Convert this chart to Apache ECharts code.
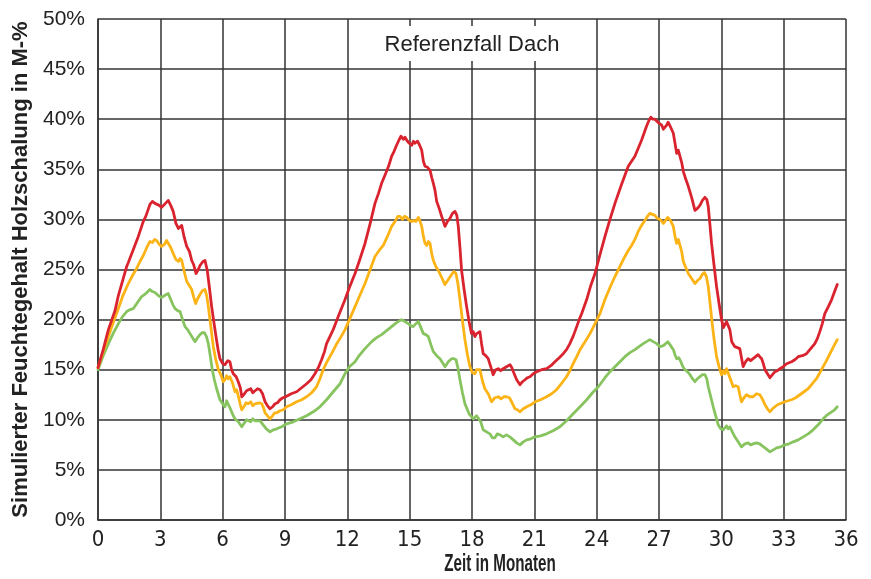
<!DOCTYPE html>
<html>
<head>
<meta charset="utf-8">
<script src="https://cdn.jsdelivr.net/npm/echarts@6/dist/echarts.min.js"></script>
<style>
  html, body { margin: 0; padding: 0; background: #fff; }
  #chart { width: 871px; height: 579px; }
</style>
</head>
<body>
<div id="chart"></div>
<script>
// Simulated moisture content of the timber sheathing, [month, M-%]
const redSeries = [[0,15.2],[0.25,17.0],[0.5,19.0],[0.82,20.9],[0.98,22.4],[1.2,24.0],[1.38,25.3],[1.46,25.7],[1.7,27.0],[1.94,28.3],[2.18,29.8],[2.3,30.3],[2.5,31.5],[2.62,31.8],[2.74,31.6],[2.82,31.7],[2.95,31.4],[3.06,31.2],[3.2,31.5],[3.38,31.9],[3.5,31.4],[3.62,30.8],[3.75,29.6],[3.87,29.1],[4.03,29.4],[4.15,28.2],[4.27,27.3],[4.4,26.8],[4.51,25.9],[4.6,25.5],[4.72,24.6],[4.85,25.1],[4.91,25.4],[5.05,25.8],[5.15,25.9],[5.26,24.9],[5.35,23.4],[5.47,21.3],[5.58,19.7],[5.68,18.3],[5.78,17.0],[5.87,16.1],[6.0,15.6],[6.11,15.5],[6.25,15.9],[6.35,15.8],[6.43,15.0],[6.51,14.6],[6.65,14.3],[6.75,13.8],[6.85,13.2],[6.92,12.3],[7.05,12.6],[7.15,12.9],[7.23,12.8],[7.35,13.1],[7.45,12.7],[7.56,12.9],[7.68,13.1],[7.8,13.0],[7.92,12.6],[8.04,11.8],[8.16,11.4],[8.28,11.1],[8.4,11.3],[8.52,11.6],[8.64,11.7],[8.76,12.0],[8.9,12.2],[9.03,12.3],[9.3,12.6],[9.56,12.8],[9.8,13.2],[10.04,13.6],[10.25,14.0],[10.44,14.6],[10.6,15.2],[10.76,16.0],[10.9,16.8],[11.0,17.6],[11.16,18.3],[11.32,19.0],[11.6,20.5],[11.89,22.0],[12.1,23.2],[12.37,24.6],[12.6,26.0],[12.85,27.6],[13.1,29.6],[13.33,31.6],[13.5,32.6],[13.65,33.6],[13.89,34.8],[14.0,35.4],[14.13,36.3],[14.25,36.8],[14.37,37.4],[14.48,37.9],[14.58,38.3],[14.7,38.0],[14.78,38.2],[14.86,37.9],[14.98,37.6],[15.1,37.4],[15.18,37.8],[15.25,37.6],[15.38,37.8],[15.48,37.4],[15.58,36.9],[15.66,35.8],[15.74,35.3],[15.86,35.2],[15.98,34.9],[16.06,34.2],[16.14,33.6],[16.22,32.9],[16.3,31.8],[16.42,31.1],[16.54,30.3],[16.62,29.8],[16.7,29.3],[16.82,29.8],[16.94,30.1],[17.06,30.6],[17.18,30.8],[17.27,30.4],[17.34,29.3],[17.42,27.2],[17.5,24.9],[17.62,23.0],[17.74,21.3],[17.86,19.8],[17.98,18.6],[18.06,18.8],[18.14,18.3],[18.22,18.6],[18.3,18.5],[18.38,18.8],[18.46,17.6],[18.54,16.6],[18.66,16.4],[18.78,16.1],[18.9,15.3],[19.02,14.5],[19.14,15.0],[19.26,15.1],[19.38,14.9],[19.5,15.1],[19.66,15.3],[19.83,15.5],[19.92,15.2],[19.99,14.8],[20.07,14.4],[20.15,14.0],[20.31,13.5],[20.43,13.8],[20.55,14.0],[20.67,14.2],[20.79,14.3],[20.95,14.6],[21.11,14.8],[21.35,15.0],[21.59,15.1],[21.8,15.4],[21.99,15.8],[22.2,16.2],[22.39,16.6],[22.55,17.0],[22.71,17.6],[22.88,18.4],[23.04,19.3],[23.16,20.0],[23.28,20.6],[23.4,21.3],[23.52,22.0],[23.7,23.3],[23.92,24.6],[24.15,26.4],[24.4,28.3],[24.64,30.0],[24.88,31.6],[25.2,33.5],[25.52,35.3],[25.68,35.8],[25.84,36.3],[26.0,37.1],[26.16,37.9],[26.28,38.6],[26.4,39.3],[26.52,39.9],[26.61,40.2],[26.7,40.0],[26.8,40.0],[26.89,39.9],[27.0,39.6],[27.13,39.4],[27.21,39.0],[27.29,39.1],[27.37,39.4],[27.44,39.7],[27.56,39.2],[27.69,38.6],[27.77,37.6],[27.85,36.6],[27.93,36.9],[28.01,36.8],[28.09,35.7],[28.17,34.8],[28.29,34.0],[28.41,33.3],[28.57,32.2],[28.73,30.9],[28.85,31.1],[28.97,31.4],[29.09,31.9],[29.21,32.2],[29.3,32.0],[29.37,31.3],[29.45,29.5],[29.53,27.6],[29.65,25.4],[29.77,23.3],[29.89,21.6],[30.01,20.0],[30.1,19.2],[30.17,19.3],[30.25,19.8],[30.33,19.8],[30.41,19.0],[30.5,17.8],[30.65,17.3],[30.77,17.2],[30.89,17.1],[30.97,16.2],[31.05,15.3],[31.17,15.8],[31.29,16.1],[31.41,15.9],[31.53,16.1],[31.65,16.3],[31.77,16.5],[31.85,16.3],[31.94,16.1],[32.02,15.6],[32.1,15.0],[32.22,14.6],[32.34,14.2],[32.46,14.5],[32.58,14.8],[32.7,14.9],[32.82,15.1],[32.98,15.3],[33.14,15.6],[33.38,15.8],[33.54,16.0],[33.7,16.3],[33.9,16.4],[34.1,16.6],[34.3,17.1],[34.5,17.6],[34.62,18.1],[34.74,18.8],[34.86,19.6],[34.98,20.6],[35.15,21.3],[35.31,22.0],[35.45,22.8],[35.58,23.5]];

const orangeSeries = [[0,15.2],[0.25,16.8],[0.5,18.3],[0.75,19.8],[0.98,21.1],[1.2,22.4],[1.46,23.6],[1.66,24.4],[1.86,25.1],[2.02,25.8],[2.18,26.4],[2.35,27.2],[2.5,27.8],[2.62,27.7],[2.72,28.0],[2.82,27.9],[2.95,27.5],[3.06,27.3],[3.2,27.5],[3.3,27.9],[3.38,27.8],[3.5,27.2],[3.62,26.6],[3.75,26.0],[3.87,25.8],[3.95,26.1],[4.03,25.9],[4.15,24.8],[4.27,23.8],[4.39,23.4],[4.51,23.0],[4.6,22.3],[4.7,21.6],[4.8,22.1],[4.91,22.5],[5.03,22.9],[5.15,23.0],[5.23,22.4],[5.31,21.3],[5.43,19.3],[5.55,17.3],[5.67,16.0],[5.79,15.0],[5.91,14.5],[6.03,13.8],[6.11,14.0],[6.19,14.4],[6.27,14.1],[6.35,14.3],[6.47,13.7],[6.59,12.8],[6.67,13.0],[6.75,12.4],[6.84,11.6],[6.92,11.0],[7.05,11.4],[7.13,11.7],[7.23,11.6],[7.35,11.8],[7.45,11.4],[7.56,11.6],[7.64,11.5],[7.76,11.7],[7.88,11.6],[7.95,11.3],[8.04,10.7],[8.16,10.4],[8.28,10.1],[8.4,10.4],[8.5,10.7],[8.6,10.7],[8.76,10.9],[8.92,11.0],[9.08,11.3],[9.3,11.5],[9.56,11.8],[9.8,12.0],[10.04,12.3],[10.28,12.7],[10.52,13.3],[10.68,14.1],[10.84,15.0],[11.0,15.7],[11.16,16.3],[11.32,16.9],[11.49,17.6],[11.7,18.3],[11.89,19.0],[12.1,20.0],[12.37,21.3],[12.6,22.4],[12.85,23.6],[13.1,25.0],[13.33,26.3],[13.53,26.9],[13.73,27.4],[13.93,28.3],[14.13,29.3],[14.3,29.8],[14.43,30.3],[14.53,30.3],[14.65,30.0],[14.75,30.3],[14.86,30.2],[14.98,29.9],[15.1,29.8],[15.2,29.9],[15.3,29.8],[15.42,30.2],[15.5,29.8],[15.58,29.3],[15.66,28.3],[15.74,27.6],[15.82,27.4],[15.9,27.8],[15.98,27.6],[16.06,26.6],[16.14,25.9],[16.26,25.3],[16.38,24.9],[16.54,24.2],[16.7,23.5],[16.86,24.0],[17.02,24.5],[17.13,24.8],[17.23,24.6],[17.32,23.6],[17.42,22.0],[17.54,19.9],[17.66,18.0],[17.78,16.5],[17.9,15.3],[18.02,14.7],[18.14,14.6],[18.22,15.0],[18.3,15.0],[18.38,15.0],[18.5,13.9],[18.62,13.1],[18.78,12.6],[18.94,11.8],[19.1,12.2],[19.26,12.3],[19.4,12.1],[19.53,12.3],[19.66,12.3],[19.8,12.2],[19.93,11.7],[20.07,11.1],[20.19,11.0],[20.31,10.8],[20.47,11.1],[20.63,11.3],[20.83,11.5],[21.03,11.8],[21.3,12.0],[21.59,12.3],[21.83,12.6],[22.07,13.0],[22.3,13.6],[22.55,14.3],[22.71,14.9],[22.87,15.6],[23.04,16.3],[23.2,17.0],[23.44,17.8],[23.68,18.6],[23.92,19.6],[24.16,20.6],[24.4,22.0],[24.64,23.2],[24.88,24.3],[25.12,25.3],[25.36,26.3],[25.52,26.9],[25.68,27.4],[25.84,28.0],[26.0,28.8],[26.16,29.4],[26.32,29.9],[26.44,30.3],[26.56,30.6],[26.68,30.5],[26.8,30.4],[26.92,30.1],[27.05,30.0],[27.13,29.9],[27.21,29.6],[27.29,29.7],[27.42,30.2],[27.55,29.9],[27.69,29.3],[27.77,28.3],[27.85,27.6],[27.93,28.0],[28.01,27.9],[28.09,26.8],[28.17,25.8],[28.29,25.2],[28.41,24.6],[28.57,24.1],[28.73,23.6],[28.85,23.9],[28.97,24.1],[29.08,24.5],[29.18,24.7],[29.28,24.3],[29.37,23.3],[29.47,21.4],[29.56,19.6],[29.66,17.9],[29.77,16.3],[29.89,15.3],[30.01,14.5],[30.09,14.9],[30.17,14.6],[30.25,15.1],[30.33,15.1],[30.45,14.0],[30.57,13.3],[30.69,13.4],[30.81,13.3],[30.89,12.5],[30.97,11.8],[31.09,12.2],[31.21,12.5],[31.37,12.3],[31.53,12.3],[31.69,12.6],[31.85,12.5],[31.97,12.1],[32.1,11.5],[32.22,11.1],[32.34,10.8],[32.46,11.1],[32.58,11.3],[32.7,11.5],[32.82,11.6],[33.06,11.8],[33.38,12.0],[33.58,12.2],[33.78,12.5],[33.98,12.8],[34.18,13.1],[34.38,13.6],[34.58,14.1],[34.74,14.7],[34.9,15.3],[35.06,15.9],[35.23,16.6],[35.4,17.3],[35.58,18.0]];

const greenSeries = [[0,15.0],[0.25,16.4],[0.5,17.6],[0.75,18.7],[0.98,19.6],[1.18,20.3],[1.38,20.8],[1.55,21.0],[1.7,21.1],[1.9,21.7],[2.1,22.3],[2.3,22.6],[2.5,23.0],[2.62,22.8],[2.74,22.7],[2.9,22.4],[3.06,22.2],[3.2,22.4],[3.38,22.6],[3.5,22.0],[3.6,21.5],[3.71,21.1],[3.83,20.9],[3.95,20.8],[4.07,20.0],[4.19,19.3],[4.31,19.0],[4.43,18.6],[4.55,18.2],[4.67,17.8],[4.79,18.2],[4.91,18.5],[5.02,18.7],[5.12,18.7],[5.22,18.3],[5.31,17.6],[5.41,16.3],[5.5,15.0],[5.6,14.0],[5.71,13.1],[5.87,12.0],[6.03,11.5],[6.11,11.3],[6.19,11.9],[6.27,12.0],[6.35,11.2],[6.47,10.6],[6.59,10.1],[6.75,9.8],[6.92,9.3],[7.05,9.7],[7.15,10.0],[7.23,10.0],[7.35,9.8],[7.45,10.1],[7.55,9.9],[7.64,10.0],[7.8,9.9],[7.95,9.5],[8.1,9.1],[8.28,8.8],[8.44,9.0],[8.6,9.1],[8.84,9.3],[9.08,9.6],[9.4,9.8],[9.72,10.1],[10.04,10.4],[10.36,10.8],[10.68,11.3],[11.0,12.0],[11.32,12.8],[11.65,13.6],[11.89,14.6],[12.1,15.3],[12.37,15.8],[12.53,16.3],[12.85,17.1],[13.17,17.8],[13.41,18.2],[13.65,18.5],[13.89,18.9],[14.13,19.3],[14.37,19.7],[14.61,20.0],[14.77,19.8],[14.93,19.6],[15.05,19.4],[15.17,19.3],[15.3,19.6],[15.42,19.8],[15.54,19.2],[15.66,18.6],[15.78,18.5],[15.9,18.3],[16.02,17.5],[16.14,16.8],[16.3,16.4],[16.46,16.1],[16.58,15.7],[16.7,15.3],[16.86,15.8],[17.02,16.1],[17.13,16.1],[17.23,16.0],[17.32,15.2],[17.42,14.0],[17.54,12.7],[17.66,11.6],[17.86,10.6],[18.06,10.1],[18.14,10.0],[18.22,10.4],[18.3,10.5],[18.42,9.8],[18.54,9.0],[18.7,8.8],[18.86,8.6],[18.98,8.2],[19.1,8.2],[19.22,8.6],[19.35,8.5],[19.5,8.3],[19.66,8.5],[19.82,8.3],[19.99,8.0],[20.15,7.7],[20.31,7.5],[20.47,7.8],[20.63,8.0],[20.83,8.1],[21.03,8.3],[21.3,8.4],[21.59,8.6],[21.9,8.9],[22.23,9.3],[22.55,9.9],[22.87,10.6],[23.2,11.3],[23.52,12.0],[23.8,12.7],[24.08,13.3],[24.4,14.2],[24.64,14.8],[24.88,15.3],[25.12,15.8],[25.36,16.3],[25.6,16.7],[25.84,17.0],[26.04,17.3],[26.24,17.6],[26.4,17.8],[26.56,18.0],[26.72,17.8],[26.89,17.6],[27.05,17.3],[27.21,17.4],[27.32,17.6],[27.42,17.8],[27.56,17.4],[27.69,17.0],[27.77,16.5],[27.85,16.1],[27.95,16.2],[28.05,15.8],[28.15,15.3],[28.25,15.0],[28.37,14.8],[28.49,14.5],[28.61,14.1],[28.73,13.8],[28.85,14.1],[28.97,14.3],[29.09,14.5],[29.21,14.5],[29.3,14.1],[29.37,13.3],[29.49,12.3],[29.61,11.3],[29.73,10.4],[29.85,9.5],[29.97,9.1],[30.09,9.0],[30.17,9.1],[30.25,9.4],[30.33,9.1],[30.41,9.3],[30.53,8.8],[30.65,8.3],[30.81,7.8],[30.97,7.3],[31.13,7.6],[31.29,7.7],[31.41,7.5],[31.53,7.6],[31.69,7.7],[31.85,7.6],[31.97,7.4],[32.1,7.2],[32.22,7.0],[32.34,6.8],[32.5,7.0],[32.66,7.2],[32.86,7.3],[33.06,7.5],[33.26,7.6],[33.46,7.8],[33.7,8.0],[33.94,8.3],[34.18,8.6],[34.42,9.0],[34.66,9.5],[34.9,10.1],[35.1,10.5],[35.31,10.8],[35.45,11.0],[35.58,11.3]];

const chartTitle = 'Referenzfall Dach';
const xAxisTitle = 'Zeit in Monaten';
const yAxisTitle = 'Simulierter Feuchtegehalt Holzschalung in M-%';

const gridColor = '#333';
const baseFont = '"Liberation Sans", Arial, Helvetica, sans-serif';
const narrowFont = '"Liberation Sans Narrow", "Arial Narrow", "DejaVu Sans Condensed", sans-serif';

const chart = echarts.init(document.getElementById('chart'), null, { renderer: 'canvas' });

function lineSeries(data, color, z) {
  return {
    type: 'line',
    data: data,
    showSymbol: false,
    smooth: false,
    z: z,
    lineStyle: { color: color, width: 2.8, join: 'round', cap: 'round' },
    emphasis: { disabled: true }
  };
}

chart.setOption({
  animation: false,
  backgroundColor: '#fff',
  grid: { left: 98, right: 25, top: 19, bottom: 59, containLabel: false },
  xAxis: {
    type: 'value',
    min: 0, max: 36, interval: 3,
    axisLine: { show: true, lineStyle: { color: gridColor, width: 1.5 } },
    axisTick: { show: false },
    axisLabel: { color: '#222', fontSize: 22, fontFamily: narrowFont, margin: 9 },
    splitLine: { show: true, lineStyle: { color: gridColor, width: 1.5 } }
  },
  yAxis: {
    type: 'value',
    min: 0, max: 50, interval: 5,
    name: yAxisTitle,
    nameLocation: 'middle',
    nameRotate: 90,
    nameGap: 66,
    nameTextStyle: { color: '#222', fontSize: 22, fontWeight: 'bold', fontFamily: baseFont },
    axisLine: { show: true, lineStyle: { color: gridColor, width: 1.5 } },
    axisTick: { show: false },
    axisLabel: { color: '#222', fontSize: 21, fontFamily: baseFont, margin: 13, formatter: '{value}%' },
    splitLine: { show: true, lineStyle: { color: gridColor, width: 1.5 } }
  },
  graphic: [
    {
      type: 'rect', z: 50,
      shape: { x: 376, y: 26, width: 193, height: 35 },
      style: { fill: '#fff' }
    },
    {
      type: 'text', z: 51,
      x: 472, y: 45,
      style: { text: chartTitle, fill: '#222', font: '22px ' + baseFont, align: 'center', verticalAlign: 'middle' }
    },
    {
      // condensed bold axis title, squeezed horizontally
      type: 'text', z: 51,
      x: 500, y: 565, scaleX: 0.66,
      style: { text: xAxisTitle, fill: '#222', font: 'bold 23px ' + baseFont, align: 'center', verticalAlign: 'middle' }
    }
  ],
  series: [
    lineSeries(greenSeries, '#87c45f', 3),
    lineSeries(orangeSeries, '#fcb316', 4),
    lineSeries(redSeries, '#d9232e', 5)
  ]
});
</script>
</body>
</html>
